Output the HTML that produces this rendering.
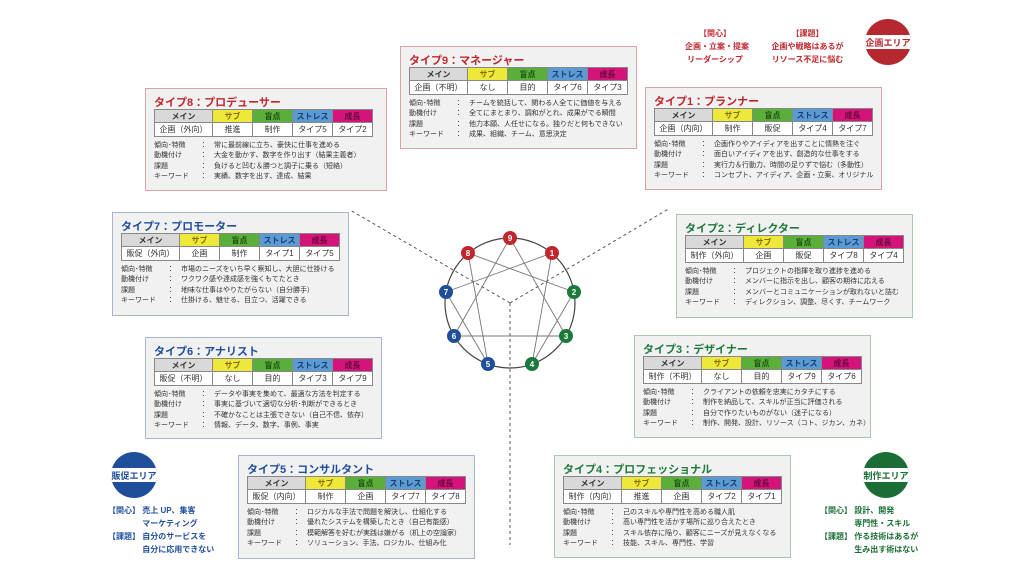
<!DOCTYPE html>
<html><head><meta charset="utf-8"><style>
*{margin:0;padding:0;box-sizing:border-box}
body{width:1024px;height:576px;background:#fff;position:relative;overflow:hidden;font-family:"Liberation Sans","Noto Sans CJK JP",sans-serif;color:#333}
.card{position:absolute;background:#f1f1f1;border:1px solid #d9a3a8;width:237px;height:103px}
.card.b{border-color:#a9b4d0}.card.g{border-color:#a9c6b0}
.t{position:absolute;left:8px;top:5px;font-size:11px;font-weight:bold;color:#c0272d;white-space:nowrap}
.b .t{color:#1f4e9a}.g .t{color:#1e7a3a}
table{position:absolute;left:8px;top:20px;border-collapse:collapse;font-size:8px;text-align:center}
td{border:1px solid #888;background:#fff;height:14px;padding:0;white-space:nowrap}
tr.h td{height:13px;font-weight:600}
td.m{width:58px}td.s{width:40px}
.c1{background:#d9d9d9!important}.c2{background:#eee83a!important;color:#8a6d00}.c3{background:#5aae3a!important;color:#1d4d12}.c4{background:#5b9bd5!important;color:#1a3f6e}.c5{background:#d4147a!important;color:#6a0a3c}
.tx{position:absolute;left:8px;top:52px;font-size:7px;line-height:10.3px;white-space:nowrap}
.tx span{display:inline-block;width:46px}.tx i{font-style:normal;display:inline-block;width:14px}
.area{position:absolute;width:46px;height:46px;border-radius:50%;overflow:hidden}
.area:before{content:"";position:absolute;left:0;right:0;top:16px;height:14px;background:#fff}
.area b{position:absolute;left:-10px;right:-10px;top:17px;text-align:center;font-size:9px;z-index:1}
.rt{position:absolute;font-size:8px;line-height:13px;font-weight:bold;white-space:nowrap}
</style></head><body>

<svg width="1024" height="576" style="position:absolute;left:0;top:0">
<g stroke="#555" stroke-dasharray="3,3" stroke-width="1" fill="none">
<line x1="510" y1="303" x2="350" y2="210"/><line x1="510" y1="303" x2="670" y2="208"/><line x1="510" y1="303" x2="510" y2="545"/>
</g>
<circle cx="510" cy="303" r="65" fill="none" stroke="#444" stroke-width="1.2"/>
<g stroke="#777" stroke-width="0.9">
<line x1="552" y1="253" x2="532" y2="364"/><line x1="532" y1="364" x2="574" y2="292"/><line x1="574" y1="292" x2="468" y2="253"/>
<line x1="468" y1="253" x2="488" y2="364"/><line x1="488" y1="364" x2="446" y2="292"/><line x1="446" y1="292" x2="552" y2="253"/>
<line x1="510" y1="238" x2="566" y2="336"/><line x1="566" y1="336" x2="454" y2="336"/><line x1="454" y1="336" x2="510" y2="238"/>
</g>
<g font-size="8" font-weight="bold" fill="#fff" text-anchor="middle" font-family="Liberation Sans">
<circle cx="510" cy="238" r="7" fill="#c0272d"/><text x="510" y="241">9</text>
<circle cx="552" cy="253" r="7" fill="#c0272d"/><text x="552" y="256">1</text>
<circle cx="468" cy="253" r="7" fill="#c0272d"/><text x="468" y="256">8</text>
<circle cx="574" cy="292" r="7" fill="#1a7a3a"/><text x="574" y="295">2</text>
<circle cx="566" cy="336" r="7" fill="#1a7a3a"/><text x="566" y="339">3</text>
<circle cx="532" cy="364" r="7" fill="#1a7a3a"/><text x="532" y="367">4</text>
<circle cx="488" cy="364" r="7" fill="#1f4e9a"/><text x="488" y="367">5</text>
<circle cx="454" cy="336" r="7" fill="#1f4e9a"/><text x="454" y="339">6</text>
<circle cx="446" cy="292" r="7" fill="#1f4e9a"/><text x="446" y="295">7</text>
</g>
</svg>

<div class="area" style="left:865px;top:19px;background:#b52830"><b style="color:#b52830">企画エリア</b></div>
<div class="rt" style="left:685px;top:27px;color:#c0272d;text-align:center;width:60px">【関心】<br>企画・立案・提案<br>リーダーシップ</div>
<div class="rt" style="left:770px;top:27px;color:#c0272d;text-align:center;width:75px">【課題】<br>企画や戦略はあるが<br>リソース不足に悩む</div>

<div class="area" style="left:111px;top:452px;background:#1f4e9a"><b style="color:#1f4e9a">販促エリア</b></div>
<div class="rt" style="left:108px;top:504px;color:#1f4e9a">【関心】 売上 UP、集客<br>&emsp;&emsp;&emsp;&emsp; マーケティング<br>【課題】 自分のサービスを<br>&emsp;&emsp;&emsp;&emsp; 自分に応用できない</div>

<div class="area" style="left:863px;top:452px;background:#1a6e35"><b style="color:#1a6e35">制作エリア</b></div>
<div class="rt" style="left:820px;top:504px;color:#1a6e35">【関心】 設計、開発<br>&emsp;&emsp;&emsp;&emsp; 専門性・スキル<br>【課題】 作る技術はあるが<br>&emsp;&emsp;&emsp;&emsp; 生み出す術はない</div>

<div class="card" style="left:400px;top:46px">
<div class="t">タイプ9：マネージャー</div>
<table><tr class="h"><td class="m c1">メイン</td><td class="s c2">サブ</td><td class="s c3">盲点</td><td class="s c4">ストレス</td><td class="s c5">成長</td></tr>
<tr><td>企画（不明）</td><td>なし</td><td>目的</td><td>タイプ6</td><td>タイプ3</td></tr></table>
<div class="tx"><span>傾向･特徴</span><i>：</i>チームを統括して、関わる人全てに価値を与える<br><span>動機付け</span><i>：</i>全てにまとまり、調和がとれ、成果がでる瞬間<br><span>課題</span><i>：</i>他力本願、人任せになる。独りだと何もできない<br><span>キーワード</span><i>：</i>成果、組織、チーム、意思決定</div></div>

<div class="card" style="left:145px;top:88px;width:242px">
<div class="t">タイプ8：プロデューサー</div>
<table><tr class="h"><td class="m c1">メイン</td><td class="s c2">サブ</td><td class="s c3">盲点</td><td class="s c4">ストレス</td><td class="s c5">成長</td></tr>
<tr><td>企画（外向）</td><td>推進</td><td>制作</td><td>タイプ5</td><td>タイプ2</td></tr></table>
<div class="tx"><span>傾向･特徴</span><i>：</i>常に最前線に立ち、豪快に仕事を進める<br><span>動機付け</span><i>：</i>大金を動かす、数字を作り出す（結果主義者）<br><span>課題</span><i>：</i>負けると凹む＆勝つと調子に乗る（短絡）<br><span>キーワード</span><i>：</i>実績、数字を出す、達成、結果</div></div>

<div class="card" style="left:645px;top:87px">
<div class="t">タイプ1：プランナー</div>
<table><tr class="h"><td class="m c1">メイン</td><td class="s c2">サブ</td><td class="s c3">盲点</td><td class="s c4">ストレス</td><td class="s c5">成長</td></tr>
<tr><td>企画（内向）</td><td>制作</td><td>販促</td><td>タイプ4</td><td>タイプ7</td></tr></table>
<div class="tx"><span>傾向･特徴</span><i>：</i>企画作りやアイディアを出すことに情熱を注ぐ<br><span>動機付け</span><i>：</i>面白いアイディアを出す、創造的な仕事をする<br><span>課題</span><i>：</i>実行力＆行動力、時間の足りずで悩む（多動性）<br><span>キーワード</span><i>：</i>コンセプト、アイディア、企画・立案、オリジナル</div></div>

<div class="card b" style="left:112px;top:212px;height:104px">
<div class="t">タイプ7：プロモーター</div>
<table><tr class="h"><td class="m c1">メイン</td><td class="s c2">サブ</td><td class="s c3">盲点</td><td class="s c4">ストレス</td><td class="s c5">成長</td></tr>
<tr><td>販促（外向）</td><td>企画</td><td>制作</td><td>タイプ1</td><td>タイプ5</td></tr></table>
<div class="tx"><span>傾向･特徴</span><i>：</i>市場のニーズをいち早く察知し、大胆に仕掛ける<br><span>動機付け</span><i>：</i>ワクワク感や達成感を強くもてたとき<br><span>課題</span><i>：</i>地味な仕事はやりたがらない（自分勝手）<br><span>キーワード</span><i>：</i>仕掛ける、魅せる、目立つ、活躍できる</div></div>

<div class="card g" style="left:676px;top:214px;height:104px">
<div class="t">タイプ2：ディレクター</div>
<table><tr class="h"><td class="m c1">メイン</td><td class="s c2">サブ</td><td class="s c3">盲点</td><td class="s c4">ストレス</td><td class="s c5">成長</td></tr>
<tr><td>制作（外向）</td><td>企画</td><td>販促</td><td>タイプ8</td><td>タイプ4</td></tr></table>
<div class="tx"><span>傾向･特徴</span><i>：</i>プロジェクトの指揮を取り進捗を進める<br><span>動機付け</span><i>：</i>メンバーに指示を出し、顧客の期待に応える<br><span>課題</span><i>：</i>メンバーとコミュニケーションが取れないと詰む<br><span>キーワード</span><i>：</i>ディレクション、調整、尽くす、チームワーク</div></div>

<div class="card b" style="left:145px;top:337px;height:102px">
<div class="t">タイプ6：アナリスト</div>
<table><tr class="h"><td class="m c1">メイン</td><td class="s c2">サブ</td><td class="s c3">盲点</td><td class="s c4">ストレス</td><td class="s c5">成長</td></tr>
<tr><td>販促（不明）</td><td>なし</td><td>目的</td><td>タイプ3</td><td>タイプ9</td></tr></table>
<div class="tx"><span>傾向･特徴</span><i>：</i>データや事実を集めて、最適な方法を判定する<br><span>動機付け</span><i>：</i>事実に基づいて適切な分析･判断ができるとき<br><span>課題</span><i>：</i>不確かなことは主張できない（自己不信、依存）<br><span>キーワード</span><i>：</i>情報、データ、数字、事例、事実</div></div>

<div class="card g" style="left:634px;top:335px">
<div class="t">タイプ3：デザイナー</div>
<table><tr class="h"><td class="m c1">メイン</td><td class="s c2">サブ</td><td class="s c3">盲点</td><td class="s c4">ストレス</td><td class="s c5">成長</td></tr>
<tr><td>制作（不明）</td><td>なし</td><td>目的</td><td>タイプ9</td><td>タイプ6</td></tr></table>
<div class="tx"><span>傾向･特徴</span><i>：</i>クライアントの依頼を忠実にカタチにする<br><span>動機付け</span><i>：</i>制作を納品して、スキルが正当に評価される<br><span>課題</span><i>：</i>自分で作りたいものがない（迷子になる）<br><span>キーワード</span><i>：</i>制作、開発、設計、リソース（コト、ジカン、カネ）</div></div>

<div class="card b" style="left:238px;top:455px;height:104px">
<div class="t">タイプ5：コンサルタント</div>
<table><tr class="h"><td class="m c1">メイン</td><td class="s c2">サブ</td><td class="s c3">盲点</td><td class="s c4">ストレス</td><td class="s c5">成長</td></tr>
<tr><td>販促（内向）</td><td>制作</td><td>企画</td><td>タイプ7</td><td>タイプ8</td></tr></table>
<div class="tx"><span>傾向･特徴</span><i>：</i>ロジカルな手法で問題を解決し、仕組化する<br><span>動機付け</span><i>：</i>優れたシステムを構築したとき（自己有能感）<br><span>課題</span><i>：</i>模範解答を好むが実践は嫌がる（机上の空論家）<br><span>キーワード</span><i>：</i>ソリューション、手法、ロジカル、仕組み化</div></div>

<div class="card g" style="left:554px;top:455px">
<div class="t">タイプ4：プロフェッショナル</div>
<table><tr class="h"><td class="m c1">メイン</td><td class="s c2">サブ</td><td class="s c3">盲点</td><td class="s c4">ストレス</td><td class="s c5">成長</td></tr>
<tr><td>制作（内向）</td><td>推進</td><td>企画</td><td>タイプ2</td><td>タイプ1</td></tr></table>
<div class="tx"><span>傾向･特徴</span><i>：</i>己のスキルや専門性を高める職人肌<br><span>動機付け</span><i>：</i>高い専門性を活かす場所に巡り合えたとき<br><span>課題</span><i>：</i>スキル依存に陥り、顧客にニーズが見えなくなる<br><span>キーワード</span><i>：</i>技能、スキル、専門性、学習</div></div>

</body></html>
